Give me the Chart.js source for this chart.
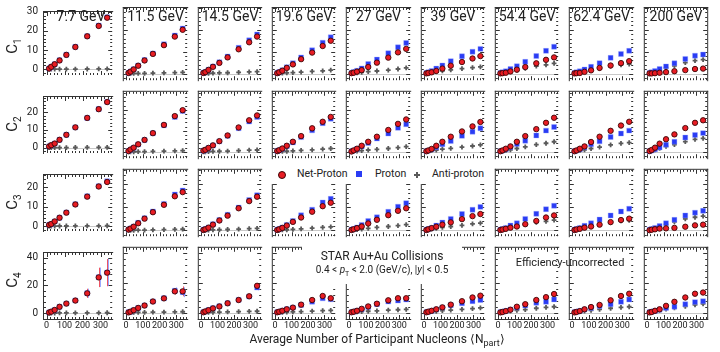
<!DOCTYPE html>
<html>
<head>
<meta charset="utf-8">
<script src="https://cdn.jsdelivr.net/npm/chart.js@4.4.1/dist/chart.umd.min.js"></script>
<style>
  html, body { margin: 0; padding: 0; background: #fff; }
  #wrap { position: relative; width: 720px; height: 352px; overflow: hidden; font-family: Roboto, sans-serif; color: #222; }
  #wrap canvas { position: absolute; }
  .lbl { position: absolute; white-space: nowrap; line-height: 1; }
  .box { position: absolute; background: #fff; }
</style>
</head>
<body>
<div id="wrap"></div>
<script>
// collision energies (one column each)
const ENERGIES = ['7.7 GeV', '11.5 GeV', '14.5 GeV', '19.6 GeV', '27 GeV', '39 GeV', '54.4 GeV', '62.4 GeV', '200 GeV'];
const CUMULANTS = ['1', '2', '3', '4'];

// <Npart> per centrality class (peripheral -> central), per energy
const NPART = [
  [14, 26, 45, 72, 110, 160, 226, 290, 337],
  [14, 26, 45, 72, 110, 160, 226, 291, 338],
  [14, 26, 45, 72, 111, 161, 228, 292, 340],
  [13, 25, 44, 71, 108, 158, 225, 289, 338],
  [14, 27, 47, 75, 114, 166, 234, 292, 341],
  [14, 26, 46, 74, 111, 162, 230, 294, 342],
  [14, 27, 47, 75, 114, 165, 232, 291, 340],
  [14, 26, 46, 74, 113, 164, 230, 292, 341],
  [15, 28, 48, 76, 115, 166, 232, 291, 340]
];

// C1
const C1_NET = [
  [0.4, 1.3, 2.6, 4.6, 7.5, 11.6, 17.2, 22.6, 26.9],
  [0.3, 0.9, 1.9, 3.6, 6.0, 9.0, 13.0, 16.9, 20.0],
  [0.3, 0.7, 1.7, 3.1, 4.9, 7.4, 11.1, 14.3, 16.9],
  [0.2, 0.6, 1.3, 2.6, 4.2, 6.6, 9.6, 12.6, 15.0],
  [0.2, 0.4, 0.9, 1.6, 3.0, 5.0, 7.3, 9.7, 11.3],
  [0.1, 0.3, 0.6, 1.2, 2.3, 3.6, 5.3, 6.9, 8.0],
  [0.1, 0.2, 0.4, 1.0, 1.8, 3.0, 4.7, 6.3, 7.4],
  [0.1, 0.2, 0.3, 0.8, 1.5, 2.6, 3.7, 4.8, 5.7],
  [0.1, 0.1, 0.2, 0.4, 0.7, 1.1, 1.6, 2.1, 2.3]
];
const C1_PROT = [
  [0.4, 1.3, 2.6, 4.7, 7.6, 11.7, 17.3, 22.8, 27.2],
  [0.3, 1.0, 2.0, 3.7, 6.2, 9.2, 13.4, 17.4, 20.6],
  [0.4, 0.8, 1.8, 3.3, 5.2, 7.8, 11.8, 15.2, 17.9],
  [0.3, 0.7, 1.5, 2.9, 4.8, 7.4, 10.7, 14.1, 16.6],
  [0.3, 0.7, 1.3, 2.4, 4.4, 6.4, 9.3, 12.0, 14.0],
  [0.3, 0.6, 1.2, 2.3, 3.7, 5.7, 7.9, 10.0, 11.3],
  [0.3, 0.6, 1.1, 2.1, 3.4, 5.4, 8.0, 10.4, 12.3],
  [0.3, 0.6, 1.1, 1.9, 3.1, 4.8, 7.2, 9.0, 10.4],
  [0.3, 0.6, 1.2, 2.1, 3.3, 4.7, 6.7, 8.2, 8.7]
];
const C1_ANTI = [
  [0.01, 0.02, 0.03, 0.05, 0.07, 0.1, 0.14, 0.17, 0.2],
  [0.02, 0.04, 0.07, 0.1, 0.15, 0.25, 0.35, 0.45, 0.55],
  [0.03, 0.06, 0.1, 0.2, 0.3, 0.4, 0.6, 0.8, 0.9],
  [0.05, 0.1, 0.2, 0.3, 0.5, 0.7, 1.0, 1.3, 1.6],
  [0.1, 0.2, 0.4, 0.6, 0.9, 1.2, 1.6, 2.1, 2.6],
  [0.15, 0.3, 0.6, 0.9, 1.3, 1.7, 2.3, 2.7, 3.1],
  [0.15, 0.3, 0.6, 1.0, 1.6, 2.4, 3.4, 4.0, 4.7],
  [0.15, 0.3, 0.6, 1.0, 1.6, 2.4, 3.4, 4.0, 4.4],
  [0.2, 0.5, 1.0, 1.7, 2.7, 3.6, 5.0, 5.9, 6.4]
];

// C2
const C2_NET = [
  [0.7, 1.4, 2.3, 4.4, 7.2, 11.4, 16.7, 21.6, 25.6],
  [0.4, 1.1, 2.0, 3.6, 5.7, 8.9, 12.8, 17.0, 19.8],
  [0.6, 1.0, 1.9, 3.1, 5.1, 7.8, 11.6, 15.0, 17.3],
  [0.4, 0.8, 1.6, 2.9, 4.8, 7.5, 11.2, 14.3, 16.6],
  [0.2, 0.7, 1.5, 2.9, 4.8, 7.2, 10.4, 13.3, 15.4],
  [0.3, 0.7, 1.4, 2.9, 4.8, 7.2, 9.7, 12.1, 14.2],
  [0.3, 0.7, 1.5, 2.6, 4.8, 7.5, 10.8, 13.8, 16.2],
  [0.3, 0.7, 1.5, 2.6, 4.7, 7.2, 10.0, 12.5, 14.3],
  [0.4, 0.9, 2.0, 3.9, 6.0, 8.3, 11.3, 13.8, 15.0]
];
const C2_PROT = [
  [0.7, 1.4, 2.3, 4.4, 7.2, 11.4, 16.7, 21.7, 25.7],
  [0.4, 1.0, 1.9, 3.5, 5.6, 8.8, 12.6, 16.6, 19.4],
  [0.5, 0.9, 1.8, 3.0, 5.0, 7.6, 11.2, 14.4, 16.6],
  [0.4, 0.8, 1.5, 2.7, 4.5, 7.0, 10.2, 13.6, 15.7],
  [0.3, 0.7, 1.4, 2.6, 4.2, 6.3, 8.7, 11.4, 13.1],
  [0.3, 0.6, 1.2, 2.2, 3.6, 5.2, 7.6, 9.6, 11.2],
  [0.3, 0.6, 1.2, 2.2, 3.7, 5.3, 7.8, 10.1, 11.8],
  [0.3, 0.6, 1.2, 2.2, 3.6, 5.0, 7.1, 8.7, 10.1],
  [0.3, 0.6, 1.2, 2.1, 3.4, 4.8, 6.8, 8.0, 8.9]
];
const C2_ANTI = [
  [0.01, 0.02, 0.03, 0.05, 0.07, 0.1, 0.14, 0.17, 0.2],
  [0.02, 0.04, 0.07, 0.1, 0.15, 0.25, 0.35, 0.45, 0.55],
  [0.03, 0.06, 0.1, 0.2, 0.3, 0.4, 0.6, 0.8, 0.9],
  [0.05, 0.1, 0.2, 0.3, 0.5, 0.7, 1.0, 1.3, 1.6],
  [0.1, 0.2, 0.4, 0.6, 0.9, 1.2, 1.6, 2.0, 2.5],
  [0.15, 0.3, 0.6, 0.9, 1.3, 1.7, 2.3, 2.8, 3.3],
  [0.15, 0.3, 0.6, 1.0, 1.6, 2.4, 3.4, 4.1, 4.8],
  [0.15, 0.3, 0.6, 1.0, 1.6, 2.3, 3.3, 4.0, 4.4],
  [0.2, 0.5, 1.0, 1.7, 2.6, 3.5, 4.9, 5.9, 6.4]
];

// C3
const C3_NET = [
  [0.6, 1.1, 2.4, 4.3, 6.9, 11.1, 15.1, 20.3, 22.6],
  [0.4, 0.8, 1.6, 3.1, 5.1, 7.9, 11.1, 14.8, 16.6],
  [0.2, 0.5, 1.2, 2.5, 4.3, 6.4, 9.6, 12.7, 14.6],
  [0.2, 0.5, 1.1, 2.1, 3.7, 5.6, 8.1, 10.5, 12.0],
  [0.2, 0.5, 1.0, 1.7, 3.0, 4.6, 6.6, 8.5, 9.6],
  [0.2, 0.5, 1.0, 1.6, 2.5, 3.5, 4.9, 6.2, 7.1],
  [0.2, 0.4, 0.7, 1.2, 1.7, 2.7, 4.1, 5.6, 6.5],
  [0.2, 0.4, 0.7, 1.2, 1.7, 2.5, 3.6, 4.5, 5.1],
  [0.1, 0.3, 0.5, 0.8, 0.9, 1.1, 1.6, 2.2, 2.5]
];
const C3_PROT = [
  [0.6, 1.1, 2.4, 4.3, 7.0, 11.2, 15.3, 20.5, 23.0],
  [0.4, 0.9, 1.7, 3.3, 5.3, 8.2, 11.5, 15.6, 17.3],
  [0.3, 0.6, 1.3, 2.7, 4.5, 6.8, 9.9, 13.2, 15.3],
  [0.3, 0.6, 1.3, 2.4, 4.1, 6.6, 9.0, 12.1, 13.7],
  [0.3, 0.6, 1.3, 2.4, 4.1, 5.7, 8.1, 10.3, 11.8],
  [0.3, 0.6, 1.1, 2.1, 3.4, 5.0, 7.1, 9.0, 10.2],
  [0.3, 0.6, 1.1, 2.1, 3.1, 5.0, 7.2, 9.2, 10.7],
  [0.3, 0.6, 1.1, 2.0, 3.1, 4.7, 6.5, 8.2, 9.4],
  [0.3, 0.6, 1.1, 1.9, 3.1, 4.6, 6.5, 7.7, 8.5]
];
const C3_ANTI = [
  [0.01, 0.02, 0.03, 0.05, 0.07, 0.1, 0.14, 0.17, 0.2],
  [0.02, 0.04, 0.07, 0.1, 0.15, 0.25, 0.35, 0.45, 0.55],
  [0.03, 0.06, 0.1, 0.2, 0.3, 0.4, 0.6, 0.8, 0.9],
  [0.05, 0.1, 0.2, 0.3, 0.5, 0.7, 1.0, 1.3, 1.5],
  [0.1, 0.2, 0.4, 0.6, 0.9, 1.3, 1.7, 2.1, 2.5],
  [0.15, 0.3, 0.6, 0.9, 1.3, 1.7, 2.2, 2.8, 3.2],
  [0.15, 0.3, 0.6, 1.1, 1.8, 2.6, 3.5, 3.9, 4.5],
  [0.15, 0.3, 0.6, 1.1, 1.8, 2.6, 3.4, 4.1, 4.4],
  [0.2, 0.5, 1.0, 1.7, 2.6, 3.7, 5.0, 5.7, 6.2]
];

// C4
const C4_NET = [
  [0.4, 1.0, 2.2, 4.5, 6.8, 9.0, 14.2, 25.7, 29.1],
  [0.1, 0.6, 1.6, 3.1, 4.7, 7.4, 9.5, 14.2, 14.2],
  [0.2, 0.8, 1.6, 2.8, 4.1, 6.2, 8.4, 10.9, 17.9],
  [0.2, 0.6, 1.2, 2.2, 3.3, 5.3, 8.4, 11.1, 9.6],
  [0.2, 0.6, 1.2, 2.5, 4.1, 5.9, 8.2, 9.6, 9.6],
  [0.2, 0.6, 1.2, 2.2, 3.5, 5.3, 7.6, 10.1, 11.3],
  [0.1, 0.4, 1.0, 1.9, 3.9, 5.6, 8.4, 10.3, 12.4],
  [0.1, 0.4, 1.0, 2.2, 3.7, 5.1, 8.2, 11.1, 12.6],
  [0.1, 0.4, 1.2, 2.2, 4.5, 7.2, 10.1, 12.6, 13.4]
];
const C4_PROT = [
  [0.4, 1.0, 2.2, 4.5, 6.8, 9.1, 14.3, 25.8, 29.2],
  [0.2, 0.6, 1.6, 3.1, 4.8, 7.5, 9.6, 14.6, 13.6],
  [0.3, 0.8, 1.7, 2.9, 4.2, 6.3, 8.5, 10.7, 16.7],
  [0.3, 0.6, 1.3, 2.3, 3.3, 5.0, 7.3, 9.5, 8.9],
  [0.2, 0.6, 1.2, 2.2, 3.7, 5.6, 7.4, 8.0, 8.7],
  [0.3, 0.6, 1.1, 2.1, 3.3, 4.9, 6.2, 7.6, 8.4],
  [0.3, 0.6, 1.1, 2.0, 3.3, 4.7, 6.6, 7.2, 8.8],
  [0.3, 0.6, 1.1, 2.0, 3.1, 4.4, 5.6, 7.2, 8.7],
  [0.3, 0.6, 1.1, 1.9, 3.0, 3.9, 5.6, 7.0, 7.6]
];
const C4_ANTI = [
  [0.01, 0.02, 0.03, 0.05, 0.07, 0.1, 0.14, 0.17, 0.2],
  [0.02, 0.04, 0.07, 0.1, 0.15, 0.25, 0.35, 0.45, 0.55],
  [0.03, 0.06, 0.1, 0.2, 0.3, 0.4, 0.6, 0.8, 0.9],
  [0.05, 0.1, 0.2, 0.3, 0.5, 0.7, 1.0, 1.3, 1.5],
  [0.1, 0.2, 0.4, 0.6, 0.9, 1.2, 1.6, 1.9, 2.2],
  [0.15, 0.3, 0.6, 0.9, 1.3, 1.7, 2.2, 2.6, 3.1],
  [0.15, 0.3, 0.6, 1.0, 1.5, 2.0, 2.9, 3.5, 3.9],
  [0.15, 0.3, 0.6, 1.0, 1.5, 2.1, 2.9, 3.5, 3.9],
  [0.2, 0.5, 1.0, 1.6, 2.4, 3.1, 4.1, 5.1, 5.9]
];
// statistical errors on C4 (same size for net-proton and proton)
const C4_ERR = [
  [0.2, 0.3, 0.4, 0.6, 0.8, 1.2, 3.3, 7.0, 9.8],
  [0.1, 0.2, 0.3, 0.4, 0.6, 0.9, 1.3, 2.2, 3.3],
  [0.1, 0.2, 0.3, 0.4, 0.5, 0.7, 1.0, 1.3, 1.8],
  [0.1, 0.1, 0.2, 0.3, 0.4, 0.6, 0.8, 1.1, 1.3],
  [0.1, 0.1, 0.2, 0.3, 0.4, 0.5, 0.7, 0.9, 1.1],
  [0.1, 0.1, 0.2, 0.2, 0.3, 0.4, 0.5, 0.7, 0.8],
  [0.1, 0.1, 0.1, 0.2, 0.3, 0.4, 0.5, 0.6, 0.7],
  [0.1, 0.1, 0.2, 0.2, 0.3, 0.4, 0.5, 0.7, 0.8],
  [0.1, 0.1, 0.1, 0.2, 0.2, 0.3, 0.4, 0.5, 0.6]
];

// axes
const X_MIN = -20, X_MAX = 365;
const X_TICKS = [0, 100, 200, 300];
const Y_MIN = [-3, -3, -2.5, -4.3];
const Y_MAX = [30.4, 29, 26.7, 44];
const Y_TICKS = [[0, 10, 20, 30], [0, 10, 20], [0, 10, 20], [0, 20, 40]];
const Y_MINOR = [2, 2, 2, 4];

const NET = [C1_NET, C2_NET, C3_NET, C4_NET];
const PROT = [C1_PROT, C2_PROT, C3_PROT, C4_PROT];
const ANTI = [C1_ANTI, C2_ANTI, C3_ANTI, C4_ANTI];

const RED = '#e81c24', RED_EDGE = '#3d0606';
const BLUE = '#2a3cf4';
const GREY = '#5a5a5a';
const FONT = 'Roboto, sans-serif';

// panel borders on the page
const colX = [43, 117, 192, 266, 340, 415, 489, 563, 638, 712];
const rowY = [7, 85, 163, 241, 319];

const wrap = document.getElementById('wrap');

// frame with inward ticks, zero line and C4 error bars
const framePlugin = {
  id: 'frame',
  beforeDatasetsDraw(chart, args, opts) {
    const { ctx, chartArea: a } = chart;
    const x = chart.scales.x, y = chart.scales.y;
    const r = opts.row, c = opts.col;
    const lastCol = c === 8, lastRow = r === 3;
    ctx.save();
    ctx.lineWidth = 1;

    ctx.strokeStyle = '#c8c8c8';
    const y0 = Math.round(y.getPixelForValue(0)) + 0.5;
    ctx.beginPath();
    ctx.moveTo(a.left, y0);
    ctx.lineTo(a.right, y0);
    ctx.stroke();

    ctx.strokeStyle = '#333';
    ctx.beginPath();
    ctx.moveTo(a.left + 0.5, a.top);
    ctx.lineTo(a.left + 0.5, a.bottom + 1);
    ctx.moveTo(a.left, a.top + 0.5);
    ctx.lineTo(a.right + 1, a.top + 0.5);
    if (lastCol) {
      ctx.moveTo(a.right + 0.5, a.top);
      ctx.lineTo(a.right + 0.5, a.bottom + 1);
    }
    if (lastRow) {
      ctx.moveTo(a.left, a.bottom + 0.5);
      ctx.lineTo(a.right + 1, a.bottom + 0.5);
    }
    for (let v = 0; v <= X_MAX; v += 20) {
      const px = Math.round(x.getPixelForValue(v)) + 0.5;
      const len = v % 100 === 0 ? 4 : 2;
      ctx.moveTo(px, a.top + 1);
      ctx.lineTo(px, a.top + 1 + len);
      ctx.moveTo(px, a.bottom);
      ctx.lineTo(px, a.bottom - len);
    }
    const step = Y_MINOR[r];
    const major = Y_TICKS[r][1];
    for (let v = Math.ceil(Y_MIN[r] / step) * step; v <= Y_MAX[r]; v += step) {
      const py = Math.round(y.getPixelForValue(v)) + 0.5;
      const len = v % major === 0 ? 4 : 2;
      ctx.moveTo(a.left + 1, py);
      ctx.lineTo(a.left + 1 + len, py);
      ctx.moveTo(a.right, py);
      ctx.lineTo(a.right - len, py);
    }
    ctx.stroke();

    if (lastRow) {
      NPART[c].forEach((n, i) => {
        const e = C4_ERR[c][i];
        const px = Math.round(x.getPixelForValue(n)) + 0.5;
        ctx.strokeStyle = 'rgba(120,140,255,0.75)';
        ctx.beginPath();
        ctx.moveTo(px + 1, y.getPixelForValue(C4_PROT[c][i] - e));
        ctx.lineTo(px + 1, y.getPixelForValue(C4_PROT[c][i] + e));
        ctx.stroke();
        ctx.strokeStyle = 'rgba(232,40,60,0.8)';
        ctx.beginPath();
        ctx.moveTo(px, y.getPixelForValue(C4_NET[c][i] - e));
        ctx.lineTo(px, y.getPixelForValue(C4_NET[c][i] + e));
        ctx.stroke();
      });
    }
    ctx.restore();
  }
};

function points(xs, ys) {
  return xs.map((n, i) => ({ x: n, y: ys[i] }));
}

for (let r = 0; r < 4; r++) {
  for (let c = 0; c < 9; c++) {
    const left = c === 0 ? 0 : colX[c];
    const top = r === 0 ? 0 : rowY[r];
    const w = colX[c + 1] - left + 1;
    const h = rowY[r + 1] - top + (r === 3 ? 17 : 1);
    const cv = document.createElement('canvas');
    cv.width = w;
    cv.height = h;
    cv.style.left = left + 'px';
    cv.style.top = top + 'px';
    cv.style.width = w + 'px';
    cv.style.height = h + 'px';
    wrap.appendChild(cv);

    new Chart(cv, {
      type: 'scatter',
      data: {
        datasets: [
          {
            data: points(NPART[c], NET[r][c]),
            pointStyle: 'circle', pointRadius: 2.7,
            pointBackgroundColor: RED, pointBorderColor: RED_EDGE, pointBorderWidth: 0.9
          },
          {
            data: points(NPART[c], PROT[r][c]),
            pointStyle: 'rect', pointRadius: 3.5,
            pointBackgroundColor: BLUE, pointBorderColor: 'rgba(150,165,255,0.6)', pointBorderWidth: 0.6
          },
          {
            data: points(NPART[c], ANTI[r][c]),
            pointStyle: 'cross', pointRadius: 2.4,
            pointBorderColor: GREY, pointBorderWidth: 1.8
          }
        ]
      },
      options: {
        responsive: false,
        animation: false,
        devicePixelRatio: 1,
        events: [],
        layout: { padding: { top: r === 0 ? 7 : 0, right: 1, bottom: r === 3 ? 0 : 1, left: 0 } },
        plugins: {
          legend: { display: false },
          tooltip: { enabled: false },
          frame: { row: r, col: c }
        },
        scales: {
          x: {
            type: 'linear', min: X_MIN, max: X_MAX,
            grid: { display: false, drawTicks: false },
            border: { display: false },
            ticks: {
              display: r === 3, autoSkip: false, maxRotation: 0, minRotation: 0, padding: 1,
              color: '#222', font: { family: FONT, size: 9 }
            },
            afterBuildTicks: s => { s.ticks = X_TICKS.map(v => ({ value: v })); },
            afterFit: s => { s.height = r === 3 ? 17 : 0; }
          },
          y: {
            type: 'linear', min: Y_MIN[r], max: Y_MAX[r],
            grid: { display: false, drawTicks: false },
            border: { display: false },
            ticks: {
              display: c === 0, autoSkip: false, padding: 5,
              color: '#222', font: { family: FONT, size: 10 }
            },
            afterBuildTicks: s => { s.ticks = Y_TICKS[r].map(v => ({ value: v })); },
            afterFit: s => { s.width = c === 0 ? 43 : 0; }
          }
        }
      },
      plugins: [framePlugin]
    });
  }
}

// text: energies, cumulant labels, axis title, legend, notes
function addLabel(html, css) {
  const d = document.createElement('div');
  d.className = 'lbl';
  d.innerHTML = html;
  Object.assign(d.style, css);
  wrap.appendChild(d);
  return d;
}

ENERGIES.forEach((e, c) => {
  const cx = (colX[c] + colX[c + 1]) / 2 + 1;
  addLabel(e, { left: (cx - 40) + 'px', width: '80px', textAlign: 'center', top: '9px', fontSize: '14px' });
});

CUMULANTS.forEach((k, r) => {
  const cy = (rowY[r] + rowY[r + 1]) / 2;
  addLabel('C<sub style="font-size:10px">' + k + '</sub>', {
    left: '2px', top: (cy - 9) + 'px', width: '24px', textAlign: 'center',
    fontSize: '15px', transform: 'rotate(-90deg)'
  });
});

addLabel('Average Number of Participant Nucleons \u27E8N<sub style="font-size:9px">part</sub>\u27E9', {
  left: '177px', width: '400px', textAlign: 'center', top: '333px', fontSize: '12px'
});

// legend box
const lg = document.createElement('div');
lg.className = 'box';
Object.assign(lg.style, { left: '268px', top: '164px', width: '220px', height: '20px' });
wrap.appendChild(lg);
lg.innerHTML =
  '<span style="position:absolute;left:10px;top:7px;width:6px;height:6px;border-radius:50%;background:' + RED + ';border:1px solid ' + RED_EDGE + '"></span>' +
  '<span class="lbl" style="left:29px;top:5px;font-size:10.5px">Net-Proton</span>' +
  '<span style="position:absolute;left:88px;top:7px;width:6px;height:6px;background:' + BLUE + '"></span>' +
  '<span class="lbl" style="left:107px;top:5px;font-size:10.5px">Proton</span>' +
  '<span style="position:absolute;left:146px;top:9.5px;width:6px;height:2px;background:' + GREY + '"></span>' +
  '<span style="position:absolute;left:148px;top:7.5px;width:2px;height:6px;background:' + GREY + '"></span>' +
  '<span class="lbl" style="left:164px;top:5px;font-size:10.5px">Anti-proton</span>';

// STAR note
const st = document.createElement('div');
st.className = 'box';
Object.assign(st.style, { left: '302px', top: '243px', width: '160px', height: '41px' });
wrap.appendChild(st);
st.innerHTML =
  '<div class="lbl" style="left:0;width:160px;text-align:center;top:7px;font-size:12px">STAR Au+Au Collisions</div>' +
  '<div class="lbl" style="left:0;width:160px;text-align:center;top:22px;font-size:10px">0.4 &lt; <i>p</i><sub style="font-size:7px">T</sub> &lt; 2.0 (GeV/c), |<i>y</i>| &lt; 0.5</div>';

addLabel('Efficiency-uncorrected', { left: '500px', width: '140px', textAlign: 'center', top: '257px', fontSize: '11px' });
</script>
</body>
</html>
